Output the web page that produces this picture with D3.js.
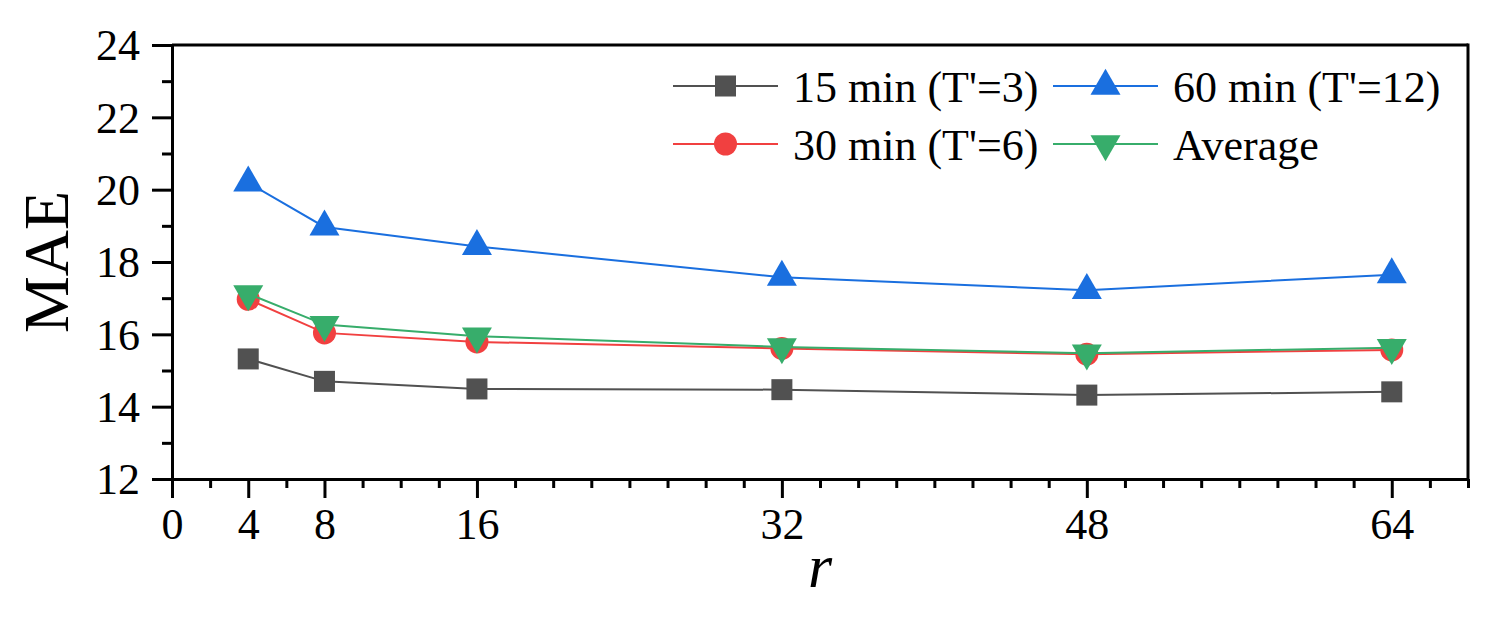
<!DOCTYPE html>
<html>
<head>
<meta charset="utf-8">
<script src="https://cdn.jsdelivr.net/npm/d3@7"></script>
<style>
  html, body { margin: 0; padding: 0; background: #fff; }
  svg { display: block; }
  text { font-family: "Liberation Serif", "Times New Roman", serif; fill: #000; }
</style>
</head>
<body>
<svg id="chart" width="1495" height="618"></svg>
<script>
// ---- data ----
const rValues = [4, 8, 16, 32, 48, 64];
const mae15 = [15.32, 14.70, 14.49, 14.47, 14.32, 14.41];
const mae30 = [16.97, 16.04, 15.79, 15.61, 15.45, 15.57];
const mae60 = [20.19, 18.97, 18.43, 17.58, 17.22, 17.65];
const maeAvg = [17.12, 16.27, 15.95, 15.65, 15.48, 15.63];
const seriesNames = ["15 min (T'=3)", "30 min (T'=6)", "60 min (T'=12)", "Average"];
const xTickValues = [0, 4, 8, 16, 32, 48, 64];
const yTickValues = [12, 14, 16, 18, 20, 22, 24];

const colors = ["#515151", "#F14040", "#1A6FDF", "#37AD6B"];
const shapes = ["square", "circle", "triangle", "invtriangle"];
const seriesValues = [mae15, mae30, mae60, maeAvg];

const svg = d3.select("#chart");
const pLeft = 172, pRight = 1468, pTop = 45, pBottom = 479;

const x = d3.scaleLinear().domain([0, 68]).range([pLeft, pRight]);
const y = d3.scaleLinear().domain([12, 24]).range([pBottom, pTop]);

// minor ticks
const xMinor = d3.range(0, 69, 2).filter(v => !xTickValues.includes(v));
const yMinor = d3.range(13, 24, 2);

// axes
const xAxisMajor = d3.axisBottom(x).tickValues(xTickValues).tickSize(19).tickSizeOuter(0).tickPadding(10);
const xAxisMinor = d3.axisBottom(x).tickValues(xMinor).tickSize(9).tickSizeOuter(0).tickFormat("");
const yAxisMajor = d3.axisLeft(y).tickValues(yTickValues).tickSize(20).tickSizeOuter(0).tickPadding(12);
const yAxisMinor = d3.axisLeft(y).tickValues(yMinor).tickSize(10).tickSizeOuter(0).tickFormat("");

function styleAxis(g) {
  g.selectAll("path.domain").attr("stroke", "#000").attr("stroke-width", 3);
  g.selectAll(".tick line").attr("stroke", "#000").attr("stroke-width", 3);
  g.selectAll(".tick text").style("font-family", '"Liberation Serif", "Times New Roman", serif')
    .style("font-size", "44px").attr("fill", "#000");
}

// frame (top & right)
svg.append("line").attr("x1", pLeft).attr("x2", pRight).attr("y1", pTop).attr("y2", pTop)
  .attr("stroke", "#000").attr("stroke-width", 3);
svg.append("line").attr("x1", pRight).attr("x2", pRight).attr("y1", pTop - 1.5).attr("y2", pBottom)
  .attr("stroke", "#000").attr("stroke-width", 3);

const gx = svg.append("g").attr("transform", `translate(0,${pBottom})`).call(xAxisMajor);
styleAxis(gx);
gx.selectAll(".tick text").attr("dy", "0.71em");
const gxm = svg.append("g").attr("transform", `translate(0,${pBottom})`).call(xAxisMinor);
styleAxis(gxm);
const gy = svg.append("g").attr("transform", `translate(${pLeft},0)`).call(yAxisMajor);
styleAxis(gy);
gy.selectAll(".tick text").attr("dy", "0.34em");
const gym = svg.append("g").attr("transform", `translate(${pLeft},0)`).call(yAxisMinor);
styleAxis(gym);

// axis titles
svg.append("text").attr("transform", "translate(68,262) rotate(-90)")
  .attr("text-anchor", "middle").style("font-size", "64px").text("MAE");
svg.append("text").attr("x", (pLeft + pRight) / 2).attr("y", 587)
  .attr("text-anchor", "middle").style("font-size", "62px").style("font-style", "italic").text("r");

// marker drawing
function drawMarker(g, shape, cx, cy, color) {
  if (shape === "square") {
    g.append("rect").attr("x", cx - 10.5).attr("y", cy - 10.5).attr("width", 21).attr("height", 21).attr("fill", color);
  } else if (shape === "circle") {
    g.append("circle").attr("cx", cx).attr("cy", cy).attr("r", 11.5).attr("fill", color);
  } else if (shape === "triangle") {
    const w = 30, h = 26;
    g.append("path").attr("d", `M${cx},${cy - 2 * h / 3} L${cx + w / 2},${cy + h / 3} L${cx - w / 2},${cy + h / 3} Z`).attr("fill", color);
  } else {
    const w = 30, h = 26;
    g.append("path").attr("d", `M${cx},${cy + 2 * h / 3} L${cx + w / 2},${cy - h / 3} L${cx - w / 2},${cy - h / 3} Z`).attr("fill", color);
  }
}

const line = d3.line().x(d => x(d[0])).y(d => y(d[1]));
seriesValues.forEach((vals, i) => {
  const g = svg.append("g");
  const pts = rValues.map((r, j) => [r, vals[j]]);
  g.append("path").attr("d", line(pts)).attr("fill", "none").attr("stroke", colors[i]).attr("stroke-width", 2);
  pts.forEach(p => drawMarker(g, shapes[i], x(p[0]), y(p[1]), colors[i]));
});

// legend
const legendItems = [
  { i: 0, lx: 673, ly: 86 },
  { i: 1, lx: 673, ly: 144 },
  { i: 2, lx: 1053, ly: 86 },
  { i: 3, lx: 1053, ly: 144 }
];
legendItems.forEach(it => {
  const g = svg.append("g");
  g.append("line").attr("x1", it.lx).attr("x2", it.lx + 105).attr("y1", it.ly).attr("y2", it.ly)
    .attr("stroke", colors[it.i]).attr("stroke-width", 2);
  drawMarker(g, shapes[it.i], it.lx + 52.5, it.ly, colors[it.i]);
  g.append("text").attr("x", it.lx + 120).attr("y", it.ly + 16).style("font-size", "44px").text(seriesNames[it.i]);
});
</script>
</body>
</html>
